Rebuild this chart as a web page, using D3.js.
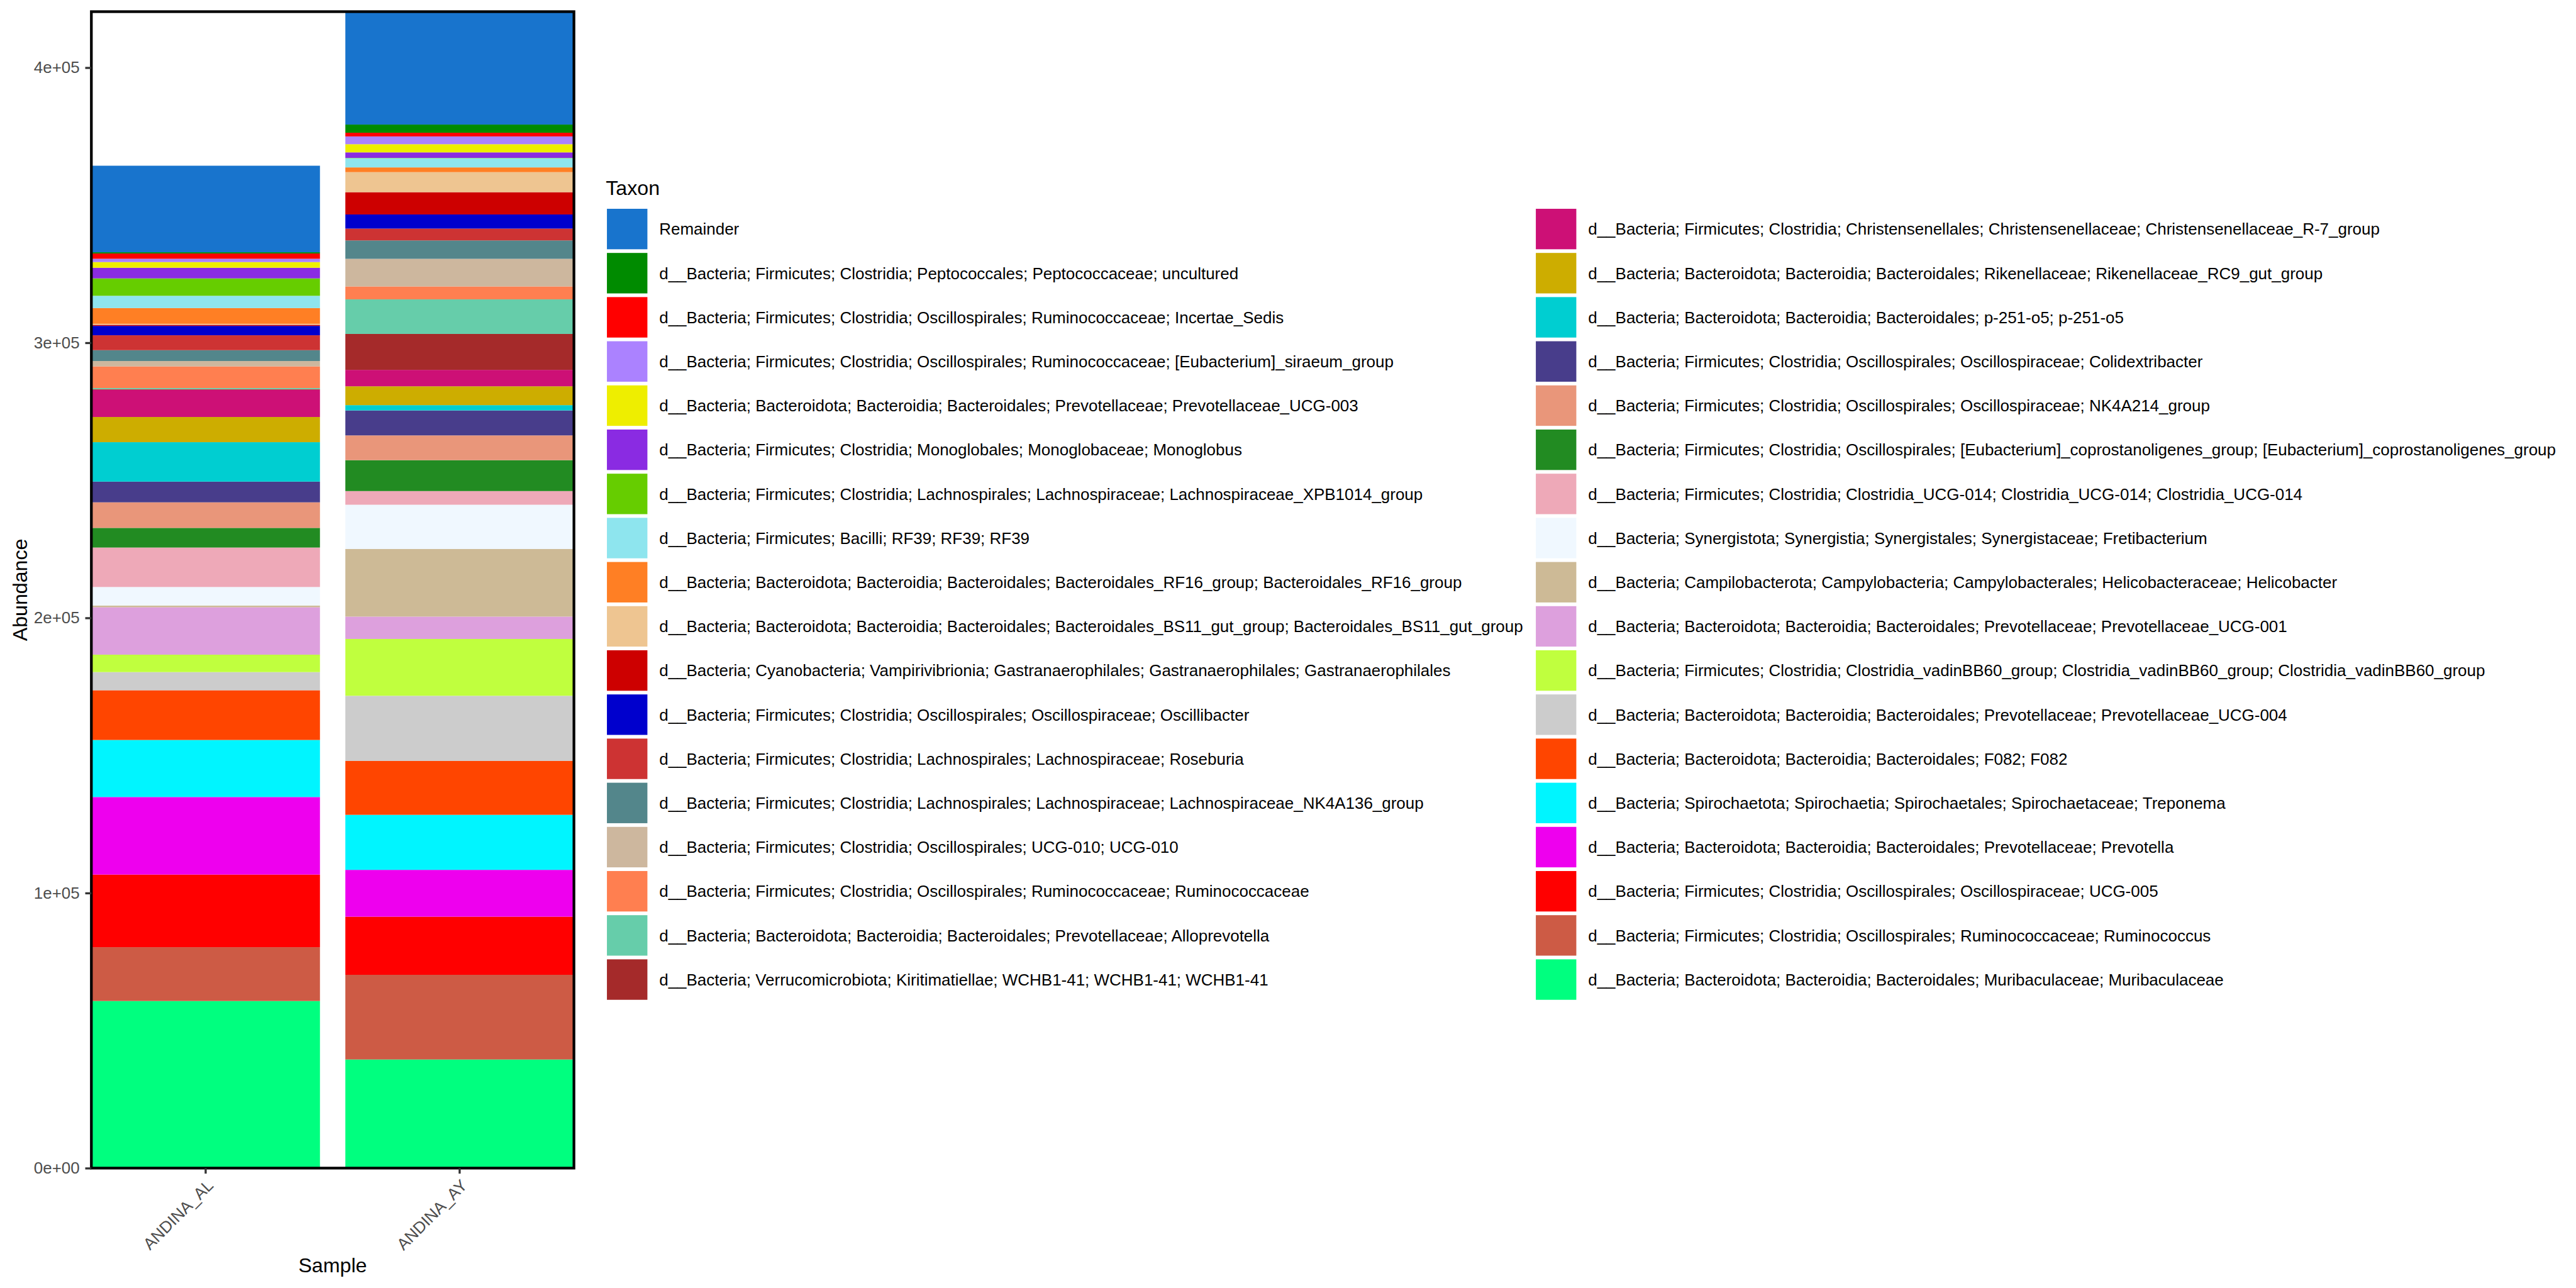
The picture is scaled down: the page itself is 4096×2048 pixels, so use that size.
<!DOCTYPE html>
<html>
<head>
<meta charset="utf-8">
<script src="https://cdn.jsdelivr.net/npm/d3@7"></script>
<style>
  html, body { margin: 0; padding: 0; background: #ffffff; }
  svg { display: block; }
  text { font-family: "Liberation Sans", Arial, Helvetica, sans-serif; }
</style>
</head>
<body>
<svg id="chart" width="4096" height="2048"></svg>
<script>
// ---------------- DATA ----------------
const samples = ["ANDINA_AL", "ANDINA_AY"];

const taxa = [
  "Remainder",
  "d__Bacteria; Firmicutes; Clostridia; Peptococcales; Peptococcaceae; uncultured",
  "d__Bacteria; Firmicutes; Clostridia; Oscillospirales; Ruminococcaceae; Incertae_Sedis",
  "d__Bacteria; Firmicutes; Clostridia; Oscillospirales; Ruminococcaceae; [Eubacterium]_siraeum_group",
  "d__Bacteria; Bacteroidota; Bacteroidia; Bacteroidales; Prevotellaceae; Prevotellaceae_UCG-003",
  "d__Bacteria; Firmicutes; Clostridia; Monoglobales; Monoglobaceae; Monoglobus",
  "d__Bacteria; Firmicutes; Clostridia; Lachnospirales; Lachnospiraceae; Lachnospiraceae_XPB1014_group",
  "d__Bacteria; Firmicutes; Bacilli; RF39; RF39; RF39",
  "d__Bacteria; Bacteroidota; Bacteroidia; Bacteroidales; Bacteroidales_RF16_group; Bacteroidales_RF16_group",
  "d__Bacteria; Bacteroidota; Bacteroidia; Bacteroidales; Bacteroidales_BS11_gut_group; Bacteroidales_BS11_gut_group",
  "d__Bacteria; Cyanobacteria; Vampirivibrionia; Gastranaerophilales; Gastranaerophilales; Gastranaerophilales",
  "d__Bacteria; Firmicutes; Clostridia; Oscillospirales; Oscillospiraceae; Oscillibacter",
  "d__Bacteria; Firmicutes; Clostridia; Lachnospirales; Lachnospiraceae; Roseburia",
  "d__Bacteria; Firmicutes; Clostridia; Lachnospirales; Lachnospiraceae; Lachnospiraceae_NK4A136_group",
  "d__Bacteria; Firmicutes; Clostridia; Oscillospirales; UCG-010; UCG-010",
  "d__Bacteria; Firmicutes; Clostridia; Oscillospirales; Ruminococcaceae; Ruminococcaceae",
  "d__Bacteria; Bacteroidota; Bacteroidia; Bacteroidales; Prevotellaceae; Alloprevotella",
  "d__Bacteria; Verrucomicrobiota; Kiritimatiellae; WCHB1-41; WCHB1-41; WCHB1-41",
  "d__Bacteria; Firmicutes; Clostridia; Christensenellales; Christensenellaceae; Christensenellaceae_R-7_group",
  "d__Bacteria; Bacteroidota; Bacteroidia; Bacteroidales; Rikenellaceae; Rikenellaceae_RC9_gut_group",
  "d__Bacteria; Bacteroidota; Bacteroidia; Bacteroidales; p-251-o5; p-251-o5",
  "d__Bacteria; Firmicutes; Clostridia; Oscillospirales; Oscillospiraceae; Colidextribacter",
  "d__Bacteria; Firmicutes; Clostridia; Oscillospirales; Oscillospiraceae; NK4A214_group",
  "d__Bacteria; Firmicutes; Clostridia; Oscillospirales; [Eubacterium]_coprostanoligenes_group; [Eubacterium]_coprostanoligenes_group",
  "d__Bacteria; Firmicutes; Clostridia; Clostridia_UCG-014; Clostridia_UCG-014; Clostridia_UCG-014",
  "d__Bacteria; Synergistota; Synergistia; Synergistales; Synergistaceae; Fretibacterium",
  "d__Bacteria; Campilobacterota; Campylobacteria; Campylobacterales; Helicobacteraceae; Helicobacter",
  "d__Bacteria; Bacteroidota; Bacteroidia; Bacteroidales; Prevotellaceae; Prevotellaceae_UCG-001",
  "d__Bacteria; Firmicutes; Clostridia; Clostridia_vadinBB60_group; Clostridia_vadinBB60_group; Clostridia_vadinBB60_group",
  "d__Bacteria; Bacteroidota; Bacteroidia; Bacteroidales; Prevotellaceae; Prevotellaceae_UCG-004",
  "d__Bacteria; Bacteroidota; Bacteroidia; Bacteroidales; F082; F082",
  "d__Bacteria; Spirochaetota; Spirochaetia; Spirochaetales; Spirochaetaceae; Treponema",
  "d__Bacteria; Bacteroidota; Bacteroidia; Bacteroidales; Prevotellaceae; Prevotella",
  "d__Bacteria; Firmicutes; Clostridia; Oscillospirales; Oscillospiraceae; UCG-005",
  "d__Bacteria; Firmicutes; Clostridia; Oscillospirales; Ruminococcaceae; Ruminococcus",
  "d__Bacteria; Bacteroidota; Bacteroidia; Bacteroidales; Muribaculaceae; Muribaculaceae"
];

const taxonColors = [
  "#1874CD", "#008B00", "#FF0000", "#AB82FF", "#EEEE00", "#8A2BE2",
  "#66CD00", "#8EE5EE", "#FF7F24", "#EEC591", "#CD0000", "#0000CD",
  "#CD3333", "#53868B", "#CDB79E", "#FF7F50", "#66CDAA", "#A52A2A",
  "#CD1076", "#CDAD00", "#00CED1", "#483D8B", "#E9967A", "#228B22",
  "#EEA9B8", "#F0F8FF", "#CDBA96", "#DDA0DD", "#C0FF3E", "#CCCCCC",
  "#FF4500", "#00F5FF", "#EE00EE", "#FF0000", "#CD5B45", "#00FF7F"
];

// Abundance per taxon (same order as taxa)
const valuesAL = [
  31450, 450, 1920, 1200, 2070, 3860, 6330, 4460, 5710, 380, 380, 3410,
  5420, 3950, 1940, 7870, 400, 250, 9880, 9150, 14340, 7520, 9300, 7140,
  14340, 6760, 600, 17240, 6330, 6600, 18070, 20740, 28190, 26390, 19560, 60740
];
const valuesAY = [
  41040, 2970, 1340, 2830, 2970, 2010, 100, 3350, 1720, 7290, 8100, 5130,
  4300, 6690, 10040, 4680, 12580, 13070, 5960, 6850, 1920, 9080, 8990, 11240,
  4970, 16060, 24600, 8120, 20660, 23640, 19630, 20010, 17020, 21120, 30780, 39480
];

const yTicks = [0, 100000, 200000, 300000, 400000];

// ---------------- LAYOUT ----------------
const S = 0.975;
const P = { left: 149 * S, right: 936 * S, top: 19 * S, bottom: 1905 * S };
const FS_SMALL = 26.65 * S;
const FS_TITLE = 33 * S;

const svg = d3.select("#chart");
svg.append("rect").attr("width", 4096).attr("height", 2048).attr("fill", "#ffffff");

const rows = samples.map((s, j) => {
  const r = { sample: s };
  const vals = j === 0 ? valuesAL : valuesAY;
  taxa.forEach((t, i) => { r[t] = vals[i]; });
  return r;
});
const totals = rows.map(r => d3.sum(taxa, t => r[t]));

const stackKeys = taxa.slice().reverse(); // bottom first
const series = d3.stack().keys(stackKeys)(rows);
const color = d3.scaleOrdinal().domain(taxa).range(taxonColors);

const x = d3.scaleBand().domain(samples).range([P.left, P.right]).paddingInner(0.1).paddingOuter(0);
const y = d3.scaleLinear().domain([0, d3.max(totals)]).range([P.bottom, P.top]);

// bars
const gBars = svg.append("g");
gBars.selectAll("g.layer")
  .data(series)
  .join("g")
  .attr("class", "layer")
  .attr("fill", d => color(d.key))
  .selectAll("rect")
  .data(d => d)
  .join("rect")
  .attr("x", d => x(d.data.sample))
  .attr("width", x.bandwidth())
  .attr("y", d => y(d[1]))
  .attr("height", d => Math.max(0, y(d[0]) - y(d[1])));

// panel border
svg.append("rect")
  .attr("x", P.left).attr("y", P.top)
  .attr("width", P.right - P.left).attr("height", P.bottom - P.top)
  .attr("fill", "none").attr("stroke", "#000000").attr("stroke-width", 4.4 * S);

// y axis
const fmtSci = v => {
  if (v === 0) return "0e+00";
  const e = Math.floor(Math.log10(v));
  const m = Math.round(v / Math.pow(10, e));
  return m + "e+" + String(e).padStart(2, "0");
};
const yAxis = svg.append("g")
  .attr("transform", `translate(${P.left},0)`)
  .call(d3.axisLeft(y).tickValues(yTicks).tickFormat(fmtSci).tickSize(10 * S).tickPadding(9 * S));
yAxis.select(".domain").remove();
yAxis.selectAll(".tick line").attr("stroke", "#333333").attr("stroke-width", 3.4 * S);
yAxis.selectAll(".tick text")
  .attr("fill", "#4D4D4D")
  .style("font-size", FS_SMALL + "px")
  .style("font-family", "'Liberation Sans', Arial, sans-serif");

// x axis
const xAxis = svg.append("g")
  .attr("transform", `translate(0,${P.bottom})`)
  .call(d3.axisBottom(x).tickSize(9 * S).tickFormat(""));
xAxis.select(".domain").remove();
xAxis.selectAll(".tick line").attr("stroke", "#333333").attr("stroke-width", 3.4 * S);

svg.append("g").selectAll("text")
  .data(samples)
  .join("text")
  .attr("transform", d => `translate(${x(d) + x.bandwidth() / 2},${1921 * S}) rotate(-45)`)
  .attr("text-anchor", "end")
  .attr("dy", "0.74em")
  .attr("fill", "#4D4D4D")
  .style("font-size", FS_SMALL + "px")
  .text(d => d);

// axis titles
svg.append("text")
  .attr("x", (P.left + P.right) / 2)
  .attr("y", 2074.5 * S)
  .attr("text-anchor", "middle")
  .attr("fill", "#000000")
  .style("font-size", FS_TITLE + "px")
  .text("Sample");

svg.append("text")
  .attr("transform", `translate(${43.6 * S},${(P.top + P.bottom) / 2}) rotate(-90)`)
  .attr("text-anchor", "middle")
  .attr("fill", "#000000")
  .style("font-size", FS_TITLE + "px")
  .text("Abundance");

// legend
const legend = svg.append("g");
legend.append("text")
  .attr("x", 988 * S).attr("y", 318 * S)
  .attr("fill", "#000000")
  .style("font-size", FS_TITLE + "px")
  .text("Taxon");

const perCol = 18;
const colKeyX = [989.8 * S, 2504.7 * S];
const items = legend.selectAll("g.item")
  .data(taxa)
  .join("g")
  .attr("class", "item")
  .attr("transform", (d, i) => {
    const c = Math.floor(i / perCol), r = i % perCol;
    return `translate(${colKeyX[c]},${(340.5 + 72 * r) * S})`;
  });
items.append("rect")
  .attr("width", 66 * S).attr("height", 66 * S)
  .attr("fill", d => color(d));
items.append("text")
  .attr("x", 85.3 * S)
  .attr("y", (33 + 9.4) * S)
  .attr("fill", "#000000")
  .style("font-size", FS_SMALL + "px")
  .text(d => d);
</script>
</body>
</html>
